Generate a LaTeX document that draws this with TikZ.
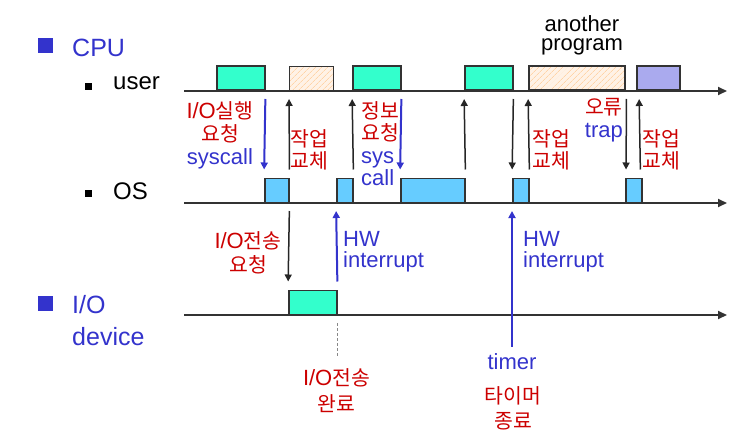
\documentclass[tikz,border=0pt]{standalone}
\usepackage{fontspec}
\setmainfont{Liberation Sans}
\newfontfamily\krfont[Scale=0.93]{Noto Sans CJK KR}
\usetikzlibrary{arrows.meta, patterns.meta}
\definecolor{CpuBlue}{HTML}{3333CC}
\definecolor{LabelRed}{HTML}{CC0000}
\definecolor{RunGreen}{HTML}{33FFCC}
\definecolor{OsBlue}{HTML}{66CCFF}
\definecolor{TrapPurple}{HTML}{AAAAEE}
\definecolor{OtherPeach}{HTML}{FFF2E6}
\definecolor{HatchOrange}{HTML}{FFD4A8}
\definecolor{AxisGray}{HTML}{333333}
\definecolor{DashGray}{HTML}{888888}
\tikzset{
    % Box styles - sit on a time axis
    runbox/.style={
        rectangle,
        draw=AxisGray,
        line width=1.5pt,
        fill=RunGreen,
        inner sep=0pt,
        minimum height=24pt,
        anchor=south west
    },
    osbox/.style={
        runbox,
        fill=OsBlue
    },
    otherbox/.style={
        runbox,
        preaction={fill=OtherPeach},
        pattern={Lines[angle=45,distance=4pt,line width=0.7pt]},
        pattern color=HatchOrange
    },
    trapbox/.style={
        runbox,
        fill=TrapPurple
    },
    % Legend styles
    bigbullet/.style={
        rectangle,
        fill=CpuBlue,
        inner sep=0pt,
        minimum size=15pt
    },
    smallbullet/.style={
        rectangle,
        fill=black,
        inner sep=0pt,
        minimum size=7pt
    },
    headlabel/.style={
        inner sep=0pt,
        text=CpuBlue,
        font=\fontsize{25}{32}\selectfont
    },
    rowlabel/.style={
        inner sep=0pt,
        font=\fontsize{24}{28}\selectfont
    },
    % Text labels
    redlabel/.style={
        inner sep=0pt,
        text=LabelRed,
        font=\fontsize{22}{22.5}\selectfont
    },
    bluelabel/.style={
        inner sep=0pt,
        text=CpuBlue,
        font=\fontsize{22}{21}\selectfont
    },
    % Arrow styles
    axisline/.style={
        draw=AxisGray,
        line width=2pt,
        -{Triangle[length=9pt,width=8pt]}
    },
    myarrow/.style={
        -{Triangle[length=7pt,width=7pt]},
        line width=1.5pt,
        black!85,
        shorten <=8pt,
        shorten >=8pt
    },
    sysarrow/.style={
        myarrow,
        CpuBlue,
        line width=2pt
    },
    donedash/.style={
        draw=DashGray,
        line width=1.3pt,
        dash pattern=on 3pt off 2pt,
        shorten <=8pt,
        shorten >=12pt
    }
}
\begin{document}
\begin{tikzpicture}[x=1pt,y=-1pt]
    \useasboundingbox (0,0) rectangle (749,441);

    % Legend on the left
    \node[bigbullet] (cpubul) at (45.5,46) {};
    \node[headlabel,anchor=base west] (cpu) at (72,56.5) {CPU};
    \node[smallbullet] (userbul) at (88.5,86.5) {};
    \node[rowlabel,anchor=base west] (user) at (113,90) {user};
    \node[smallbullet] (osbul) at (88.5,193.5) {};
    \node[rowlabel,anchor=base west] (os) at (113,199) {OS};
    \node[bigbullet] (iobul) at (45.5,303) {};
    \node[headlabel,anchor=base west,align=left] (iodev) at (72,345) {I/O\\device};

    % Time axes
    \coordinate (ua0) at (184,91);
    \coordinate (ua1) at (727,91);
    \coordinate (oa0) at (184,203);
    \coordinate (oa1) at (727,203);
    \coordinate (ia0) at (184,315);
    \coordinate (ia1) at (727,315);
    \draw[axisline] (ua0) -- (ua1);
    \draw[axisline] (oa0) -- (oa1);
    \draw[axisline] (ia0) -- (ia1);

    % User mode
    \node[runbox,minimum width=48pt] (u1) at (216,91) {};
    \node[otherbox,minimum width=44pt] (h1) at (289,91) {};
    \node[runbox,minimum width=48pt] (u2) at (352,91) {};
    \node[runbox,minimum width=48pt] (u3) at (464,91) {};
    \node[otherbox,minimum width=96pt] (h2) at (528,91) {};
    \node[trapbox,minimum width=43pt] (p1) at (636,91) {};

    % OS mode
    \node[osbox,minimum width=24pt] (o1) at (264,203) {};
    \node[osbox,minimum width=16pt] (o2) at (336,203) {};
    \node[osbox,minimum width=64pt] (o3) at (400,203) {};
    \node[osbox,minimum width=16pt] (o4) at (512,203) {};
    \node[osbox,minimum width=16pt] (o5) at (625,203) {};

    % I/O device
    \node[runbox,minimum width=48pt] (io1) at (288,315) {};

    % Mode switches
    \draw[sysarrow] (u1.south east) -- (o1.north west);
    \draw[myarrow] (o1.north east) -- (h1.south west);
    \draw[myarrow] (o2.north east) -- (u2.south west);
    \draw[sysarrow] (u2.south east) -- (o3.north west);
    \draw[myarrow] (o3.north east) -- (u3.south west);
    \draw[myarrow] (u3.south east) -- (o4.north west);
    \draw[myarrow] (o4.north east) -- (h2.south west);
    \draw[myarrow] ([xshift=1pt]h2.south east) -- ([xshift=1pt]o5.north west);
    \draw[myarrow] ([xshift=-2pt]o5.north east) -- ([xshift=3pt]p1.south west);

    % Device side
    \draw[myarrow] (o1.south east) -- (io1.north west);
    \draw[sysarrow] (io1.north east) -- (o2.south west);

    % Labels (multi-line nodes sit on their last line)
    \node[redlabel,align=center,anchor=base] (req1) at (220,164) {I/O{\krfont 실행}\\{\krfont 요청}\\\textcolor{CpuBlue}{syscall}};
    \node[redlabel,align=left,anchor=base west] (swap1) at (290,168.5) {\krfont 작업\\\krfont 교체};
    \node[redlabel,align=left,anchor=base west] (req2) at (361,185.5) {{\krfont 정보}\\{\krfont 요청}\\\textcolor{CpuBlue}{sys}\\\textcolor{CpuBlue}{call}};
    \node[redlabel,text=black,align=center,anchor=base,font=\fontsize{22}{19.5}\selectfont] (other) at (582,51) {another\\program};
    \node[redlabel,align=left,anchor=base west] (swap2) at (532,168.5) {\krfont 작업\\\krfont 교체};
    \node[redlabel,align=right,anchor=base east,font=\fontsize{22}{24}\selectfont] (trap) at (623,138) {{\krfont 오류}\\\textcolor{CpuBlue}{trap}};
    \node[redlabel,align=left,anchor=base west] (swap3) at (642,168.5) {\krfont 작업\\\krfont 교체};
    \node[redlabel,align=center,anchor=base,font=\fontsize{22}{24}\selectfont] (ioreq) at (248,272) {I/O{\krfont 전송}\\{\krfont 요청}};
    \node[bluelabel,align=left,anchor=base west] (hw1) at (343,267) {HW\\interrupt};
    \node[bluelabel,align=left,anchor=base west] (hw2) at (523,267) {HW\\interrupt};
    \node[redlabel,align=center,anchor=base,font=\fontsize{22}{26}\selectfont] (done) at (336.5,411) {I/O{\krfont 전송}\\{\krfont 완료}};
    \node[bluelabel,anchor=base] (timer) at (512,369) {timer};
    \node[redlabel,align=center,anchor=base,font=\fontsize{22}{25}\selectfont] (tdone) at (513,428) {\krfont 타이머\\\krfont 종료};

    % Interrupt and completion marks
    \draw[sysarrow,shorten <=6pt] (o4.south west |- timer.north) -- (o4.south west);
    \draw[donedash] (io1.south east) -- (io1.south east |- done.north);
\end{tikzpicture}
\end{document}
